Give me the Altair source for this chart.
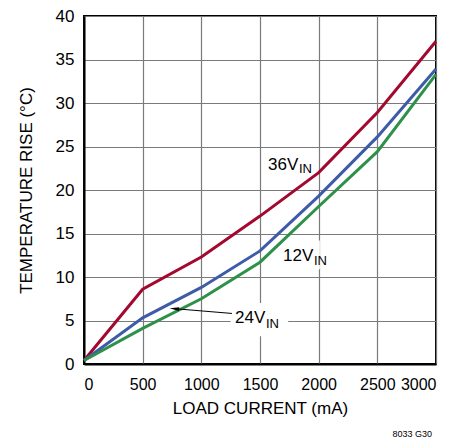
import altair as alt
import pandas as pd

# ---- data ----
load_ma = [0, 500, 1000, 1500, 2000, 2500, 3000]
rise_36v = [0.4, 8.6, 12.3, 17.0, 22.0, 28.9, 37.1]
rise_12v = [0.4, 5.3, 8.8, 13.0, 19.3, 26.1, 33.9]
rise_24v = [0.4, 4.1, 7.5, 11.7, 18.1, 24.4, 33.3]
series_names = ["36V", "12V", "24V"]
series_colors = ["#A3082F", "#3D5BA9", "#2E9149"]
x_ticks = [0, 500, 1000, 1500, 2000, 2500, 3000]
y_ticks = [0, 5, 10, 15, 20, 25, 30, 35, 40]

# label annotations (data coordinates)
lab_main = ["36V", "12V", "24V"]
lab_x = [1568, 1696, 1287]
lab_y = [22.3, 11.85, 4.67]
sub_x = [1832, 1960, 1551]
sub_y = [21.9, 11.4, 4.1]
# white boxes behind labels
box_x1 = [1680, 1250]
box_x2 = [2010, 1740]
box_y1 = [10.9, 3.2]
box_y2 = [14.2, 7.0]
# arrow (from 24V label to the 24V curve)
arrow_tail = (1261, 5.81)
arrow_tip = (770, 6.36)

FONT = "Liberation Sans, Arial, Helvetica, sans-serif"

rows = []
for name, vals in zip(series_names, [rise_36v, rise_12v, rise_24v]):
    for xv, yv in zip(load_ma, vals):
        rows.append({"load": xv, "rise": yv, "series": name})
df = pd.DataFrame(rows)

xscale = alt.Scale(domain=[0, 3000], nice=False, zero=False)
yscale = alt.Scale(domain=[0, 40], nice=False, zero=False)

lines = alt.Chart(df).mark_line(strokeWidth=3).encode(
    x=alt.X("load:Q", scale=xscale,
            axis=alt.Axis(values=x_ticks, title="LOAD CURRENT (mA)", format="d",
                          titlePadding=8, labelFontSize=16)),
    y=alt.Y("rise:Q", scale=yscale,
            axis=alt.Axis(values=y_ticks, title="TEMPERATURE RISE (°C)",
                          titlePadding=20)),
    color=alt.Color("series:N", scale=alt.Scale(domain=series_names, range=series_colors),
                    legend=None),
    order=alt.Order("load:Q"),
)

boxes = alt.Chart(pd.DataFrame({"x1": box_x1, "x2": box_x2, "y1": box_y1, "y2": box_y2})).mark_rect(
    color="white").encode(
    x=alt.X("x1:Q", scale=xscale), x2="x2:Q",
    y=alt.Y("y1:Q", scale=yscale), y2="y2:Q")

arrow_df = pd.DataFrame({"x": [arrow_tail[0]], "y": [arrow_tail[1]],
                         "x2": [arrow_tip[0]], "y2": [arrow_tip[1]]})
arrow_line = alt.Chart(arrow_df).mark_rule(color="black", strokeWidth=1).encode(
    x=alt.X("x:Q", scale=xscale), y=alt.Y("y:Q", scale=yscale), x2="x2:Q", y2="y2:Q")
arrow_head = alt.Chart(pd.DataFrame({"x": [arrow_tip[0]], "y": [arrow_tip[1]]})).mark_point(
    shape="M -1 0 L 1 -0.38 L 1 0.38 Z", filled=True, color="black", opacity=1,
    size=90, angle=5).encode(
    x=alt.X("x:Q", scale=xscale), y=alt.Y("y:Q", scale=yscale))

main_txt = alt.Chart(pd.DataFrame({"x": lab_x, "y": lab_y, "t": lab_main})).mark_text(
    font=FONT, fontSize=17, align="left", baseline="alphabetic", color="black").encode(
    x=alt.X("x:Q", scale=xscale), y=alt.Y("y:Q", scale=yscale), text="t:N")
sub_txt = alt.Chart(pd.DataFrame({"x": sub_x, "y": sub_y, "t": ["IN"] * 3})).mark_text(
    font=FONT, fontSize=13, align="left", baseline="alphabetic", color="black").encode(
    x=alt.X("x:Q", scale=xscale), y=alt.Y("y:Q", scale=yscale), text="t:N")

footer = alt.Chart(pd.DataFrame({"t": ["8033 G30"]})).mark_text(
    font=FONT, fontSize=9, align="right", baseline="middle", color="black").encode(
    x=alt.value(348), y=alt.value(418), text="t:N")

chart = alt.layer(boxes, lines, arrow_line, arrow_head, main_txt, sub_txt, footer).properties(
    width=352, height=348,
    autosize=alt.AutoSizeParams(type="none"),
    padding={"left": 76, "top": 8, "right": 28, "bottom": 76},
).configure_view(
    stroke="black", strokeWidth=2
).configure_axis(
    grid=True, gridColor="#7a7a7a", gridWidth=1.2,
    domain=True, domainColor="black", domainWidth=2,
    ticks=False, labelPadding=10,
    labelFont=FONT, labelFontSize=17, labelColor="black",
    titleFont=FONT, titleFontSize=17, titleFontWeight="normal", titleColor="black",
).configure_axisX(labelPadding=12)

chart.save("out.html", embed_options={"renderer": "svg", "actions": False})
